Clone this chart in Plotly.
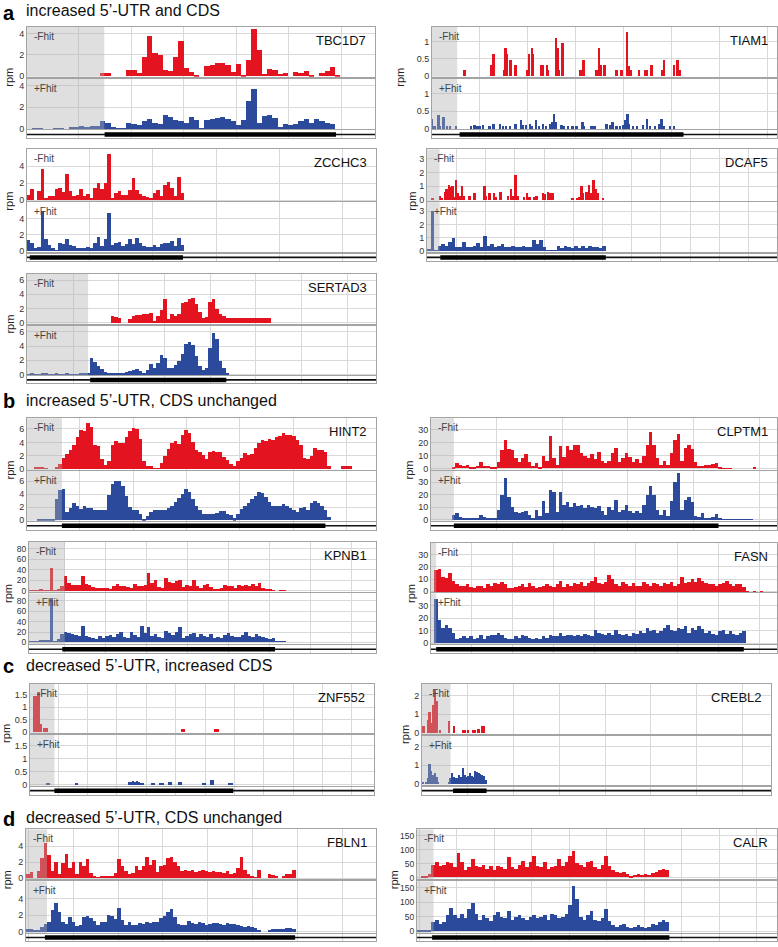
import plotly.graph_objects as go

W, H = 778, 947
RED = "#e3141f"
BLUE = "#2c4a9b"
SHADE = "rgba(175,175,175,0.40)"
FONT = "Liberation Sans, Arial, sans-serif"

# ------------------------------------------------------------------ data
SECTION_LETTERS = ["a", "b", "c", "d"]
SECTION_TITLES = ["increased 5\u2019-UTR and CDS",
                  "increased 5\u2019-UTR, CDS unchanged",
                  "decreased 5\u2019-UTR, increased CDS",
                  "decreased 5\u2019-UTR, CDS unchanged"]

GENES = ["TBC1D7", "TIAM1", "ZCCHC3", "DCAF5", "SERTAD3", "HINT2", "CLPTM1",
         "KPNB1", "FASN", "ZNF552", "CREBL2", "FBLN1", "CALR"]

# transcript coordinates in % of transcript length
UTR_END = {"TBC1D7": 22.2, "TIAM1": 7.3, "ZCCHC3": 0.0, "DCAF5": 3.6, "SERTAD3": 17.5,
           "HINT2": 10.0, "CLPTM1": 6.6, "KPNB1": 10.3, "FASN": 1.5, "ZNF552": 7.1,
           "CREBL2": 8.2, "FBLN1": 6.0, "CALR": 4.6}
CDS_START = {"TBC1D7": 22.3, "TIAM1": 8.0, "ZCCHC3": 0.8, "DCAF5": 3.8, "SERTAD3": 18.1,
             "HINT2": 10.0, "CLPTM1": 6.6, "KPNB1": 9.6, "FASN": 1.5, "ZNF552": 7.1,
             "CREBL2": 8.9, "FBLN1": 5.4, "CALR": 4.2}
CDS_END = {"TBC1D7": 88.8, "TIAM1": 72.9, "ZCCHC3": 44.7, "DCAF5": 51.1, "SERTAD3": 57.1,
           "HINT2": 85.5, "CLPTM1": 83.1, "KPNB1": 70.9, "FASN": 90.4, "ZNF552": 59.1,
           "CREBL2": 18.5, "FBLN1": 76.9, "CALR": 70.1}

Y_TICKS = {"TBC1D7": [0, 2, 4], "TIAM1": [0, 0.5, 1], "ZCCHC3": [0, 2, 4],
           "DCAF5": [0, 1, 2, 3], "SERTAD3": [0, 2, 4, 6], "HINT2": [0, 2, 4, 6],
           "CLPTM1": [0, 10, 20, 30], "KPNB1": [0, 20, 40, 60, 80], "FASN": [0, 10, 20, 30],
           "ZNF552": [0, 0.5, 1, 1.5], "CREBL2": [0, 1, 2], "FBLN1": [0, 2, 4],
           "CALR": [0, 50, 100, 150]}

# ---- binned read densities (rpm); bins laid out by TRACK_BINS below
TBC1D7_MINUS = [0, 0, 0, 0, 0, 0, 0, 0, 0, 0, 0, 0, 0, 0, 0.3, 0.3, 0, 0, 0, 0.6, 0.6, 0.3,
                1.8, 3.8, 2.2, 2.0, 0.6, 0.5, 1.8, 3.3, 0.8, 0.4, 0.1, 0, 0.9, 1.0, 1.2, 1.2,
                1.0, 0.4, 1.1, 0.1, 1.5, 4.4, 2.5, 0.2, 0.7, 0.6, 0.2, 0.25, 0, 0.35, 0.3,
                0.45, 0.1, 0, 0.3, 0.5, 0.85, 0.1]
TBC1D7_PLUS = [0, 0.05, 0.05, 0, 0, 0.05, 0.05, 0, 0.15, 0.2, 0.25, 0.2, 0.3, 0.25, 0.7,
               0.6, 0.2, 0.05, 0.05, 0.6, 0.5, 0.4, 0.7, 0.9, 0.6, 0.5, 1.3, 1.1, 0.8, 0.7,
               0.6, 1.1, 0.8, 0.1, 0.8, 0.9, 1.0, 1.1, 0.9, 0.7, 0.4, 0.8, 2.6, 3.7, 0.6,
               1.2, 1.3, 1.0, 0.2, 0.5, 0.4, 0.5, 0.7, 0.9, 0.6, 0.9, 0.7, 0.6, 0.5]

ZCCHC3_MINUS = [0.6, 1.3, 0, 1.0, 3.6, 0.2, 0.4, 0.5, 1.3, 1.4, 0.9, 3.0, 1.0, 0.5, 0.6,
                1.3, 0.4, 0.7, 0.2, 1.4, 2.0, 1.3, 2.0, 5.4, 0.1, 0.8, 1.0, 0.6, 0.6, 1.2,
                2.6, 1.2, 0.7, 0.4, 0.3, 0.1, 0.8, 1.2, 0.5, 1.8, 2.1, 1.4, 0.5, 2.7, 0.8]
ZCCHC3_PLUS = [1.3, 0.9, 0.4, 0.5, 4.8, 1.5, 0.7, 0.3, 0.1, 0.9, 0.8, 1.5, 0.7, 0.6, 0.4,
               0.3, 0.3, 0.5, 0.3, 1.0, 1.7, 0.6, 1.4, 4.6, 0.7, 0.9, 1.1, 0.6, 0.8, 1.5,
               0.8, 1.6, 1.0, 0.6, 0.5, 0.5, 0.7, 0.5, 0.8, 0.9, 1.0, 1.2, 0.6, 1.6, 0.7]

DCAF5_PLUS = [0.1, 3.0, 0.05, 0.4, 0.5, 0.4, 0.7, 1.0, 0.3, 0.3, 0.7, 0.3, 0.3, 0.4, 0.6,
              0.3, 1.1, 0.4, 0.5, 0.3, 0.4, 0.5, 0.3, 0.3, 0.4, 0.3, 0.3, 0.4, 0.3, 0.3,
              0.8, 0.5, 0.8, 0.3, 0.05, 0.05, 0.05, 0.35, 0.2, 0.35, 0.3, 0.2, 0.4, 0.2,
              0.4, 0.2, 0.35, 0.3, 0.3, 0.2, 0.4]

SERTAD3_MINUS = [1.0, 0.8, 0.6, 0, 0, 0.5, 0.9, 1.1, 1.1, 1.2, 1.3, 1.4, 0.2, 1.0, 1.8,
                 3.3, 0.5, 1.3, 0.9, 1.3, 2.8, 2.9, 3.3, 3.5, 2.7, 1.5, 0.7, 0.8, 3.0, 3.4,
                 2.0, 1.2, 0.9, 0.7, 0.6, 0.6, 0.6, 0.6, 0.6, 0.6, 0.6, 0.6, 0.6, 0.6, 0.6,
                 0.6]
SERTAD3_PLUS = [0.1, 0.15, 0.1, 0.1, 0.15, 0.15, 0.1, 0.1, 0.15, 0.1, 0.1, 0.15, 0.1, 0.1,
                0.1, 0.15, 0.15, 0.2, 2.3, 1.8, 1.3, 0.8, 0.4, 0.2, 0.2, 0.3, 0.3, 0.3,
                0.4, 0.5, 0.7, 0.8, 0.5, 0.2, 0.6, 1.5, 0.9, 1.6, 2.8, 2.4, 1.0, 0.9, 1.4,
                2.0, 3.0, 4.3, 4.7, 4.2, 2.7, 1.2, 0.6, 1.0, 3.8, 5.9, 5.0, 2.0, 1.0, 0.2]

HINT2_MINUS = [0, 0, 0.15, 0.15, 0.15, 0.1, 0, 0, 0.3, 0.8, 1.7, 2.3, 2.8, 3.6, 4.8, 5.8,
               5.6, 6.9, 6.2, 3.6, 3.4, 1.5, 0.6, 1.2, 3.6, 4.1, 3.9, 3.8, 4.8, 5.7, 6.1,
               6.0, 4.5, 1.2, 0.5, 0.4, 0.1, 0.1, 0.9, 2.0, 3.0, 3.8, 4.2, 3.7, 5.0, 5.8,
               5.3, 4.0, 2.9, 2.6, 2.1, 1.5, 2.5, 2.7, 2.5, 2.6, 1.8, 1.3, 0.8, 0.4, 1.2,
               1.7, 2.4, 2.1, 2.3, 3.1, 3.8, 4.3, 4.1, 4.5, 4.3, 4.8, 4.9, 5.4, 5.0, 5.1,
               4.9, 4.3, 3.6, 1.6, 1.5, 2.0, 3.2, 2.9, 2.8, 2.5, 0.5, 0, 0, 0, 0.4, 0.4,
               0.4]
HINT2_PLUS = [0, 0, 0, 0.1, 0.2, 0.2, 0.2, 0.2, 3.3, 4.6, 4.8, 1.2, 1.8, 2.6, 2.2, 1.7,
              2.1, 1.9, 1.8, 1.6, 1.5, 1.5, 1.6, 3.9, 5.6, 6.1, 6.0, 5.2, 3.8, 2.0, 1.6,
              1.5, 1.0, 0.2, 0.7, 1.2, 1.5, 1.6, 1.5, 1.6, 1.8, 2.2, 2.8, 3.4, 4.1, 4.8,
              4.3, 3.2, 2.1, 1.5, 1.0, 1.0, 0.9, 0.9, 1.1, 1.4, 1.4, 1.0, 0.8, 0.3, 1.0,
              1.7, 2.2, 2.6, 3.2, 3.8, 4.4, 4.2, 3.6, 2.8, 2.2, 2.1, 2.2, 2.5, 2.1, 1.9,
              1.6, 1.3, 1.9, 2.0, 1.6, 2.6, 3.0, 2.6, 2.1, 1.6, 0.5]

CLPTM1_MINUS = [0, 0, 0, 0, 0, 0, 1, 4, 3, 2, 3, 1.5, 1, 2, 5, 2, 2, 1, 0.5, 5, 14, 22, 15,
                14, 8, 5, 8, 11, 5, 2, 4, 1, 10, 6, 25, 8, 3, 17, 9, 17, 14, 18, 18, 12, 10,
                8, 11, 7, 13, 6, 4, 6, 12, 16, 5, 8, 12, 9, 5, 7, 4, 10, 18, 28, 18, 8, 3,
                6, 3, 12, 22, 27, 6, 16, 18, 15, 5, 2, 2, 2.5, 3, 3.5, 4, 1, 0.3, 0.3, 0.3,
                0, 0, 0, 0, 0, 0, 0.5]
CLPTM1_PLUS = [0, 0, 0, 0, 0, 0, 4, 5, 2, 1, 1.5, 1, 0.5, 0.5, 3.5, 2, 1.5, 1, 1, 8, 20, 33,
               18, 10, 6, 5, 6, 6.5, 4, 1.5, 8, 3, 15, 5, 24, 22, 6, 22, 12, 14, 10, 13, 11,
               12, 9, 12, 10, 9, 11, 7, 4, 10, 8, 16, 6, 8, 12, 7, 5, 7, 5, 12, 20, 27, 20,
               8, 4, 8, 3, 15, 30, 37, 8, 16, 18, 14, 3, 2, 5, 1.5, 1, 2, 4.5, 0.5, 0.3,
               0.3, 0.3, 0.3, 0.3, 0.3, 0.3, 0.3, 0.3]

KPNB1_MINUS = [0.5, 1, 1, 4, 1, 1, 45, 0.5, 3, 10, 28, 16, 12, 11, 12, 28, 14, 11, 8, 5, 6,
               5, 6, 4, 9, 14, 9, 10, 7, 5, 14, 9, 10, 12, 35, 16, 22, 7, 6, 24, 17, 16, 19,
               22, 8, 12, 10, 21, 9, 6, 11, 14, 7, 4, 3, 6, 12, 9, 9, 6, 11, 9, 12, 10, 13,
               9, 16, 5, 3, 2, 1.5, 0, 0.5, 0.5]
KPNB1_PLUS = [0.5, 0.5, 0.5, 4, 2, 2, 85, 1, 5, 15, 20, 17, 15, 14, 12, 30, 12, 9, 8, 6, 12,
              8, 12, 14, 10, 16, 20, 10, 8, 20, 14, 10, 30, 18, 28, 12, 15, 10, 8, 22, 18,
              13, 20, 28, 8, 12, 15, 18, 10, 15, 12, 10, 15, 8, 10, 8, 14, 18, 12, 10, 9,
              14, 20, 12, 10, 16, 12, 9, 8, 5, 8, 0.5, 0.5, 0.5]

FASN_MINUS = [0, 18, 19, 12, 11, 15, 9, 6, 5, 5, 6, 4, 3, 5, 5, 3, 6, 5, 7, 6, 8, 6, 3, 3,
              4, 5, 6, 4, 7, 5, 3, 4, 5, 6, 5, 4, 6, 9, 4, 6, 5, 7, 6, 8, 5, 7, 9, 12, 7, 6,
              8, 14, 10, 6, 5, 8, 6, 5, 7, 5, 5, 8, 6, 5, 7, 6, 5, 7, 6, 8, 5, 6, 12, 7, 8,
              10, 8, 11, 9, 7, 6, 6, 5, 6, 7, 9, 6, 5, 6, 6, 4, 0.3, 0, 0.3, 0, 0.3]
FASN_PLUS = [0, 35, 18, 12, 14, 12, 8, 3, 4, 5, 4, 5, 3, 4, 6, 3, 5, 6, 6, 8, 6, 4, 3, 3, 5,
             4, 6, 5, 4, 3, 4, 3, 5, 4, 6, 5, 5, 8, 5, 6, 6, 5, 6, 5, 7, 6, 5, 10, 8, 7, 6,
             8, 6, 10, 7, 6, 7, 5, 8, 7, 9, 8, 12, 9, 10, 8, 9, 12, 14, 10, 9, 12, 11, 13,
             8, 12, 10, 13, 11, 8, 9, 7, 6, 9, 10, 7, 9, 7, 6, 8, 9]

CREBL2_MINUS = [0.35, 0.35, 0, 0.7, 1.1, 0.5, 1.5, 2.3, 1.7, 0, 0.15, 0, 0, 0, 0, 0.65, 0, 0,
                0.35, 0, 0, 0, 0, 0.15, 0.15, 0, 0.15, 0, 0, 0.15, 0.15, 0, 0.2, 0, 0.35,
                0.35]
CREBL2_PLUS = [0.05, 0, 0.05, 0.3, 1.1, 0.7, 0.5, 0.6, 0.4, 0.1, 0, 0, 0, 0, 0, 0.05, 0.3,
               0.6, 0.4, 0.3, 0.3, 0.5, 0.4, 0.85, 0.5, 0.4, 0.45, 0.6, 0.45, 0.35, 0.7,
               0.65, 0.6, 0.55, 0.5, 0.45, 0.2]

FBLN1_MINUS = [0.4, 0.7, 0, 0.8, 2.5, 4.4, 2.8, 0.8, 2.0, 0.4, 1.8, 3.0, 1.2, 2.0, 0.4, 2.0,
               1.5, 2.3, 0.6, 0.2, 0.05, 0.1, 0.1, 0.1, 0.1, 0.6, 2.3, 1.4, 0.8, 0.5, 0.6,
               1.5, 0.9, 1.5, 2.6, 1.6, 2.2, 0.7, 1.5, 1.6, 2.4, 2.6, 1.9, 1.5, 0.8, 1.0,
               0.8, 1.0, 0.7, 0.8, 0.9, 0.8, 0.7, 0.8, 0.7, 0.7, 0.6, 0.8, 0.5, 0.6, 1.2,
               2.6, 0.9, 0.4, 0.2, 0.05, 1.0, 0, 0, 0.5, 0.3, 0.2, 0, 0.1, 0.5, 0.5, 0.9]
FBLN1_PLUS = [0.3, 0.3, 0.2, 0.2, 0.5, 0.9, 1.1, 2.6, 3.4, 2.4, 1.2, 0.9, 1.8, 1.1, 0.7,
              0.8, 1.7, 1.9, 1.6, 1.3, 0.8, 1.2, 1.2, 2.0, 1.9, 1.5, 2.8, 1.4, 0.8, 1.1,
              0.8, 0.8, 1.0, 0.9, 1.1, 1.0, 1.2, 1.2, 1.6, 1.9, 2.4, 2.7, 1.7, 0.9, 0.8,
              0.8, 1.3, 1.0, 0.9, 1.1, 1.0, 0.8, 0.9, 1.0, 1.0, 0.9, 0.8, 1.0, 0.9, 0.9,
              0.8, 0.7, 0.6, 0.7, 0.5, 0.4, 0.2, 0, 0, 0.2, 0.3, 0.35, 0.3, 0.35, 0.4,
              0.45, 0.35]

CALR_MINUS = [0, 2, 2, 10, 45, 55, 40, 45, 55, 50, 35, 85, 55, 25, 35, 65, 40, 35, 45, 30,
              40, 25, 40, 35, 30, 72, 35, 30, 45, 58, 35, 55, 75, 40, 35, 55, 30, 35, 40,
              65, 40, 55, 75, 95, 50, 45, 35, 55, 58, 35, 30, 45, 75, 40, 25, 20, 15, 20,
              10, 5, 8, 10, 8, 10, 8, 15, 20, 25, 30, 25]
CALR_PLUS = [2, 2, 2, 5, 30, 40, 25, 30, 55, 80, 55, 45, 60, 45, 75, 95, 60, 40, 55, 45, 35,
             55, 65, 50, 45, 70, 40, 50, 55, 45, 40, 50, 55, 45, 50, 55, 40, 60, 55, 45, 50,
             60, 90, 155, 110, 50, 40, 55, 70, 40, 35, 45, 75, 35, 20, 15, 20, 25, 15, 10,
             15, 20, 15, 10, 15, 25, 20, 30, 38, 30]

# ---- sparse read densities: position (% of transcript) and rpm
TIAM1_MINUS_POS = [9.5, 17.2, 17.9, 21.1, 21.4, 21.8, 22.6, 22.8, 24.3, 27.7, 28.2, 29.1,
                   29.4, 31.8, 32.2, 33.4, 33.7, 36.1, 36.4, 36.9, 37.9, 43.1, 43.5, 44.0,
                   47.7, 48.5, 48.9, 50.1, 53.5, 55.0, 56.6, 57.2, 57.6, 60.1, 61.8, 62.4,
                   63.7, 66.9, 67.3, 70.2, 71.2, 71.9]
TIAM1_MINUS_VAL = [0.17, 0.33, 0.63, 0.17, 0.8, 0.63, 0.17, 0.48, 0.33, 0.17, 0.63, 0.8,
                   0.63, 0.33, 0.33, 0.33, 0.17, 1.1, 0.8, 0.17, 0.95, 0.17, 0.17, 0.48,
                   0.17, 0.8, 0.33, 0.33, 0.17, 0.17, 1.27, 0.3, 0.17, 0.17, 0.17, 0.17,
                   0.33, 0.17, 0.48, 0.33, 0.48, 0.17]
TIAM1_PLUS_POS = [0.1, 0.8, 1.9, 2.4, 3.4, 4.4, 5.3, 7.1, 11.4, 12.4, 13.1, 13.8, 14.8,
                  16.7, 17.9, 19.7, 20.6, 21.6, 22.6, 24.3, 25.8, 26.4, 27.4, 28.4, 29.1,
                  30.3, 31.1, 32.2, 33.2, 34.2, 34.9, 35.4, 36.1, 37.6, 38.2, 39.5, 40.8,
                  41.9, 43.7, 44.0, 46.3, 47.2, 50.6, 51.6, 52.4, 53.5, 54.5, 55.5, 56.2,
                  56.7, 57.2, 58.4, 59.5, 61.3, 62.4, 63.2, 64.7, 65.9, 66.6, 67.3, 69.0,
                  70.2]
TIAM1_PLUS_VAL = [0.28, 0.1, 0.4, 0.1, 0.35, 0.08, 0.08, 0.08, 0.08, 0.12, 0.08, 0.08, 0.12,
                  0.1, 0.15, 0.15, 0.08, 0.1, 0.1, 0.15, 0.27, 0.12, 0.12, 0.15, 0.1, 0.25,
                  0.1, 0.15, 0.1, 0.15, 0.2, 0.42, 0.2, 0.12, 0.1, 0.1, 0.08, 0.08, 0.2,
                  0.08, 0.08, 0.08, 0.15, 0.12, 0.2, 0.1, 0.08, 0.12, 0.25, 0.42, 0.15,
                  0.1, 0.08, 0.12, 0.3, 0.1, 0.08, 0.15, 0.3, 0.1, 0.08, 0.08]

DCAF5_MINUS_POS = [1.7, 3.8, 4.4, 5.3, 5.7, 6.3, 6.7, 7.1, 7.4, 7.9, 8.4, 8.9, 9.4, 10.1,
                   10.5, 12.2, 13.6, 16.5, 17.0, 17.9, 19.2, 19.7, 21.1, 23.2, 24.1, 24.8,
                   25.4, 26.0, 27.8, 28.6, 29.4, 30.8, 31.3, 33.2, 33.7, 34.6, 35.4, 36.1,
                   41.6, 42.9, 43.5, 44.2, 44.7, 45.6, 46.3, 46.9, 47.7, 48.3, 48.8, 50.4]
DCAF5_MINUS_VAL = [0.15, 0.3, 0.15, 0.6, 0.8, 1.1, 0.7, 0.9, 1.0, 0.2, 1.4, 0.5, 0.3, 1.0,
                   0.3, 0.3, 0.5, 1.0, 0.3, 0.5, 0.5, 0.2, 0.6, 0.3, 0.8, 0.3, 1.8, 0.3,
                   0.2, 0.5, 0.2, 0.2, 0.3, 0.5, 0.4, 0.6, 0.5, 0.5, 0.15, 0.15, 0.2, 1.0,
                   0.5, 0.6, 1.1, 0.5, 1.4, 0.8, 0.5, 0.15]

ZNF552_MINUS_POS = [1.3, 1.9, 2.5, 3.1, 4.3, 4.9, 44.2, 44.8, 54.0, 54.6]
ZNF552_MINUS_VAL = [1.45, 1.45, 1.6, 0.33, 0.17, 0.17, 0.13, 0.13, 0.13, 0.13]
ZNF552_PLUS_POS = [5.0, 5.6, 13.6, 28.8, 29.4, 30.0, 30.6, 31.2, 31.8, 32.4, 33.0, 35.5,
                   36.1, 38.0, 38.6, 40.4, 41.0, 43.4, 44.0, 50.3, 50.9, 52.8, 53.3, 58.1,
                   58.7]
ZNF552_PLUS_VAL = [0.05, 0.05, 0.05, 0.1, 0.12, 0.15, 0.12, 0.13, 0.1, 0.08, 0.08, 0.07,
                   0.07, 0.07, 0.07, 0.09, 0.12, 0.12, 0.12, 0.07, 0.07, 0.2, 0.18, 0.07,
                   0.07]

# ------------------------------------------------------------------ layout
# bin layout of binned tracks: (first bin start %, bin width %)
TRACK_BINS = {
    "TBC1D7": (0, 1.5), "ZCCHC3": (0, 1.0), "DCAF5": (0, 1.0), "SERTAD3": (24, 1.0),
    "SERTAD3+": (0, 1.0), "HINT2": (0, 1.0), "CLPTM1": (0, 1.0), "KPNB1": (0, 1.0),
    "FASN": (0, 1.0), "CREBL2": (0, 0.5), "FBLN1": (0, 1.0), "CALR": (0, 1.0),
}
SPARSE_WIDTH = 0.55

TRACKS = {
    "TBC1D7": (("bin", TBC1D7_MINUS, "TBC1D7"), ("bin", TBC1D7_PLUS, "TBC1D7")),
    "TIAM1": (("pos", TIAM1_MINUS_POS, TIAM1_MINUS_VAL), ("pos", TIAM1_PLUS_POS, TIAM1_PLUS_VAL)),
    "ZCCHC3": (("bin", ZCCHC3_MINUS, "ZCCHC3"), ("bin", ZCCHC3_PLUS, "ZCCHC3")),
    "DCAF5": (("pos", DCAF5_MINUS_POS, DCAF5_MINUS_VAL), ("bin", DCAF5_PLUS, "DCAF5")),
    "SERTAD3": (("bin", SERTAD3_MINUS, "SERTAD3"), ("bin", SERTAD3_PLUS, "SERTAD3+")),
    "HINT2": (("bin", HINT2_MINUS, "HINT2"), ("bin", HINT2_PLUS, "HINT2")),
    "CLPTM1": (("bin", CLPTM1_MINUS, "CLPTM1"), ("bin", CLPTM1_PLUS, "CLPTM1")),
    "KPNB1": (("bin", KPNB1_MINUS, "KPNB1"), ("bin", KPNB1_PLUS, "KPNB1")),
    "FASN": (("bin", FASN_MINUS, "FASN"), ("bin", FASN_PLUS, "FASN")),
    "ZNF552": (("pos", ZNF552_MINUS_POS, ZNF552_MINUS_VAL), ("pos", ZNF552_PLUS_POS, ZNF552_PLUS_VAL)),
    "CREBL2": (("bin", CREBL2_MINUS, "CREBL2"), ("bin", CREBL2_PLUS, "CREBL2")),
    "FBLN1": (("bin", FBLN1_MINUS, "FBLN1"), ("bin", FBLN1_PLUS, "FBLN1")),
    "CALR": (("bin", CALR_MINUS, "CALR"), ("bin", CALR_PLUS, "CALR")),
}

# pixel boxes: left, right, top, minus bottom, plus top, plus bottom, track top, track bottom
BOX = {
    "TBC1D7": (27, 375, 27, 77, 79, 130, 131, 139),
    "TIAM1": (432, 777, 27, 77, 79, 130, 131, 139),
    "ZCCHC3": (27, 376, 150, 202, 203, 253, 255, 262),
    "DCAF5": (427, 777, 150, 202, 203, 253, 255, 262),
    "SERTAD3": (27, 376, 275, 325, 327, 377, 378, 385),
    "HINT2": (27, 376, 420, 472, 473, 523, 524, 532),
    "CLPTM1": (431, 777, 420, 472, 473, 523, 524, 532),
    "KPNB1": (29, 376, 544, 595, 596, 647, 648, 656),
    "FASN": (431, 777, 545, 595, 596, 647, 648, 656),
    "ZNF552": (30, 374, 687, 736, 738, 789, 790, 798),
    "CREBL2": (422, 771, 687, 737, 739, 788, 790, 798),
    "FBLN1": (26, 376, 833, 883, 885, 937, 938, 945),
    "CALR": (417, 777, 833, 883, 885, 937, 938, 945),
}
Y_RANGE = {"TBC1D7": (-0.07, 4.62), "TIAM1": (-0.02, 1.42), "ZCCHC3": (-0.12, 6.0),
           "DCAF5": (-0.07, 3.67), "SERTAD3": (-0.15, 6.9), "HINT2": (-0.12, 7.6),
           "CLPTM1": (-1.0, 39.0), "KPNB1": (-3.5, 94.0), "FASN": (-1.0, 40.0),
           "ZNF552": (-0.04, 1.93), "CREBL2": (-0.05, 2.6), "FBLN1": (-0.15, 6.1),
           "CALR": (-5.5, 172.0)}
X_GRID = {"TBC1D7": (14.8, 15.1), "TIAM1": (13.8, 13.9), "ZCCHC3": (18.0, 18.1),
          "DCAF5": (8.4, 8.35), "SERTAD3": (13.2, 13.1), "HINT2": (15.1, 15.3),
          "CLPTM1": (18.9, 19.0), "KPNB1": (10.3, 11.8), "FASN": (11.8, 11.86),
          "ZNF552": (8.2, 8.54), "CREBL2": (13.0, 13.15), "FBLN1": (13.5, 12.8),
          "CALR": (11.1, 10.4)}
RPM_X = {"TBC1D7": 9, "TIAM1": 400, "ZCCHC3": 9, "DCAF5": 412, "SERTAD3": 10, "HINT2": 10,
         "CLPTM1": 409, "KPNB1": 8, "FASN": 411, "ZNF552": 6, "CREBL2": 405, "FBLN1": 7,
         "CALR": 394}
TICK_SIZE = {"KPNB1": 8.5, "CALR": 8.5}
SECTION_Y = [11, 402, 668, 821]
LETTER_Y = [13, 403, 669, 822]


def px(x):
    return x / W


def py(y):
    return 1 - y / H


def ticktext(v):
    return ("%g" % v)


fig = go.Figure()
layout = dict(width=W, height=H, margin=dict(l=0, r=0, t=0, b=0),
              paper_bgcolor="white", plot_bgcolor="white", showlegend=False,
              bargap=0, font=dict(family=FONT, color="#222"))
shapes, annotations = [], []
grid_col = "#d9d9d9"
line_col = "#a3a3a3"

n = 0
for g in GENES:
    L, R, T, M1, M2, B, TT, TB = BOX[g]
    t0, dt = X_GRID[g]
    lo, hi = Y_RANGE[g]
    panels = [(T, M1), (M2, B)]
    colors = [RED, BLUE]
    labels = ["-Fhit", "+Fhit"]
    for k in range(2):
        n += 1
        sfx = "" if n == 1 else str(n)
        kind, a, b = TRACKS[g][k]
        if kind == "bin":
            s, w = TRACK_BINS[b]
            xs = [s + (i + 0.5) * w for i in range(len(a))]
            ys = a
        else:
            w = SPARSE_WIDTH
            xs, ys = a, b
        fig.add_trace(go.Bar(x=xs, y=ys, width=w, marker=dict(color=colors[k], line=dict(width=0)),
                             xaxis="x" + sfx, yaxis="y" + sfx, hoverinfo="skip"))
        top, bot = panels[k]
        layout["xaxis" + sfx] = dict(domain=[px(L), px(R)], range=[0, 100], showticklabels=False,
                                     showgrid=True, gridcolor=grid_col, gridwidth=1,
                                     tick0=t0, dtick=dt, ticks="", zeroline=False,
                                     showline=True, linecolor=line_col, linewidth=1, mirror=True,
                                     anchor="y" + sfx, fixedrange=True)
        layout["yaxis" + sfx] = dict(domain=[py(bot), py(top)], range=[lo, hi],
                                     tickvals=Y_TICKS[g], ticktext=[ticktext(v) for v in Y_TICKS[g]],
                                     showgrid=True, gridcolor=grid_col, gridwidth=1, zeroline=False,
                                     showline=True, linecolor=line_col, linewidth=1, mirror=True,
                                     ticks="", tickfont=dict(size=TICK_SIZE.get(g, 9), color="#333",
                                                             family=FONT),
                                     anchor="x" + sfx, fixedrange=True)
        if UTR_END[g] > 0:
            shapes.append(dict(type="rect", xref="x" + sfx, yref="y" + sfx + " domain",
                               x0=0, x1=UTR_END[g], y0=0, y1=1, fillcolor=SHADE,
                               line=dict(width=0), layer="above"))
        annotations.append(dict(x=px(L + 5), y=py(top + 2), xref="paper", yref="paper",
                                text=labels[k], showarrow=False, xanchor="left", yanchor="top",
                                font=dict(size=10, color="#444", family=FONT)))
    # gene model track
    n += 1
    sfx = str(n)
    fig.add_trace(go.Scatter(x=[0, 100], y=[0.5, 0.5], mode="lines",
                             line=dict(color="#111", width=1.6), xaxis="x" + sfx, yaxis="y" + sfx,
                             hoverinfo="skip"))
    fig.add_trace(go.Scatter(x=[CDS_START[g], CDS_END[g]], y=[0.5, 0.5], mode="lines",
                             line=dict(color="#000", width=4.5), xaxis="x" + sfx, yaxis="y" + sfx,
                             hoverinfo="skip"))
    layout["xaxis" + sfx] = dict(domain=[px(L), px(R)], range=[0, 100], showticklabels=False,
                                 showgrid=True, gridcolor=grid_col, tick0=t0, dtick=dt, ticks="",
                                 zeroline=False, showline=True, linecolor=line_col, mirror=True,
                                 anchor="y" + sfx, fixedrange=True)
    layout["yaxis" + sfx] = dict(domain=[py(TB), py(TT)], range=[0, 1], showticklabels=False,
                                 showgrid=False, zeroline=False, showline=True, linecolor=line_col,
                                 mirror=True, anchor="x" + sfx, fixedrange=True)
    # gene name and rpm label
    annotations.append(dict(x=px(R - 7), y=py(T + 4), xref="paper", yref="paper", text=g,
                            showarrow=False, xanchor="right", yanchor="top",
                            font=dict(size=13, color="#111", family=FONT)))
    annotations.append(dict(x=px(RPM_X[g]), y=py((M1 + M2) / 2), xref="paper", yref="paper",
                            text="rpm", textangle=-90, showarrow=False, xanchor="center",
                            yanchor="middle", font=dict(size=11, color="#222", family=FONT)))

for letter, title, y, ly in zip(SECTION_LETTERS, SECTION_TITLES, SECTION_Y, LETTER_Y):
    annotations.append(dict(x=px(1), y=py(ly), xref="paper", yref="paper", text="<b>%s</b>" % letter,
                            showarrow=False, xanchor="left", yanchor="middle",
                            font=dict(size=20, color="#000", family=FONT)))
    annotations.append(dict(x=px(24), y=py(y), xref="paper", yref="paper", text=title,
                            showarrow=False, xanchor="left", yanchor="middle",
                            font=dict(size=16, color="#111", family=FONT)))

layout["shapes"] = shapes
layout["annotations"] = annotations
fig.update_layout(**layout)
fig.write_html("out.html", config={"displayModeBar": False},
               post_script="document.body.style.margin='0px';document.body.style.overflow='hidden';")
